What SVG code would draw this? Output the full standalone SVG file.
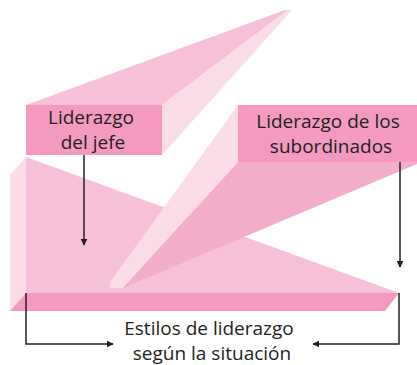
<svg xmlns="http://www.w3.org/2000/svg" width="417" height="365" viewBox="0 0 417 365">
<defs>
<style>
.box{fill:#F49AC1}
.top{fill:#F6C1D8}
.side{fill:#FBDDE8}
.mid{fill:#F2AECB}
.t{font-family:"Open Sans","Noto Sans",sans-serif;font-size:19px;fill:#231F20;text-anchor:middle}
.ln{fill:none;stroke:#231F20;stroke-width:1.5}
</style>
<marker id="ah" viewBox="0 0 10 10" refX="9" refY="5" markerWidth="7" markerHeight="7" markerUnits="userSpaceOnUse" orient="auto">
<path d="M0,0 L10,5 L0,10 z" fill="#231F20"/>
</marker>
</defs>
<g id="base">
<polygon class="side" points="10,175 26,157 26,293 10,311"/>
<polygon class="top" points="26,157 399,293 26,293"/>
<polygon class="box" points="26,293 399,293 385,311 10,311"/>
</g>
<g id="jefe">
<polygon class="top" points="26,105 285,10 288,10 162,105"/>
<polygon class="side" points="162,105 288,10 292,10 162,155"/>
<rect class="box" x="26" y="105" width="136" height="50"/>
<text class="t" x="91" y="124">Liderazgo</text>
<text class="t" x="93" y="149">del jefe</text>
</g>
<g id="subordinados">
<polygon class="side" points="238,105 110,282 110,288 123,288 238,162"/>
<polygon class="mid" points="238,162 417,162 417,164 123,288"/>
<rect class="box" x="238" y="105" width="179" height="57"/>
<text class="t" x="328" y="128">Liderazgo de los</text>
<text class="t" x="331" y="153">subordinados</text>
</g>
<g id="estilos">
<text class="t" x="209" y="335">Estilos de liderazgo</text>
<text class="t" x="212" y="360">según la situación</text>
</g>
<g id="connectors">
<line class="ln" x1="84" y1="155" x2="84" y2="245" marker-end="url(#ah)"/>
<line class="ln" x1="400" y1="162" x2="400" y2="267" marker-end="url(#ah)"/>
<polyline class="ln" points="26,293 26,344 113,344" marker-end="url(#ah)"/>
<polyline class="ln" points="399,293 399,344 313,344" marker-end="url(#ah)"/>
</g>
</svg>
